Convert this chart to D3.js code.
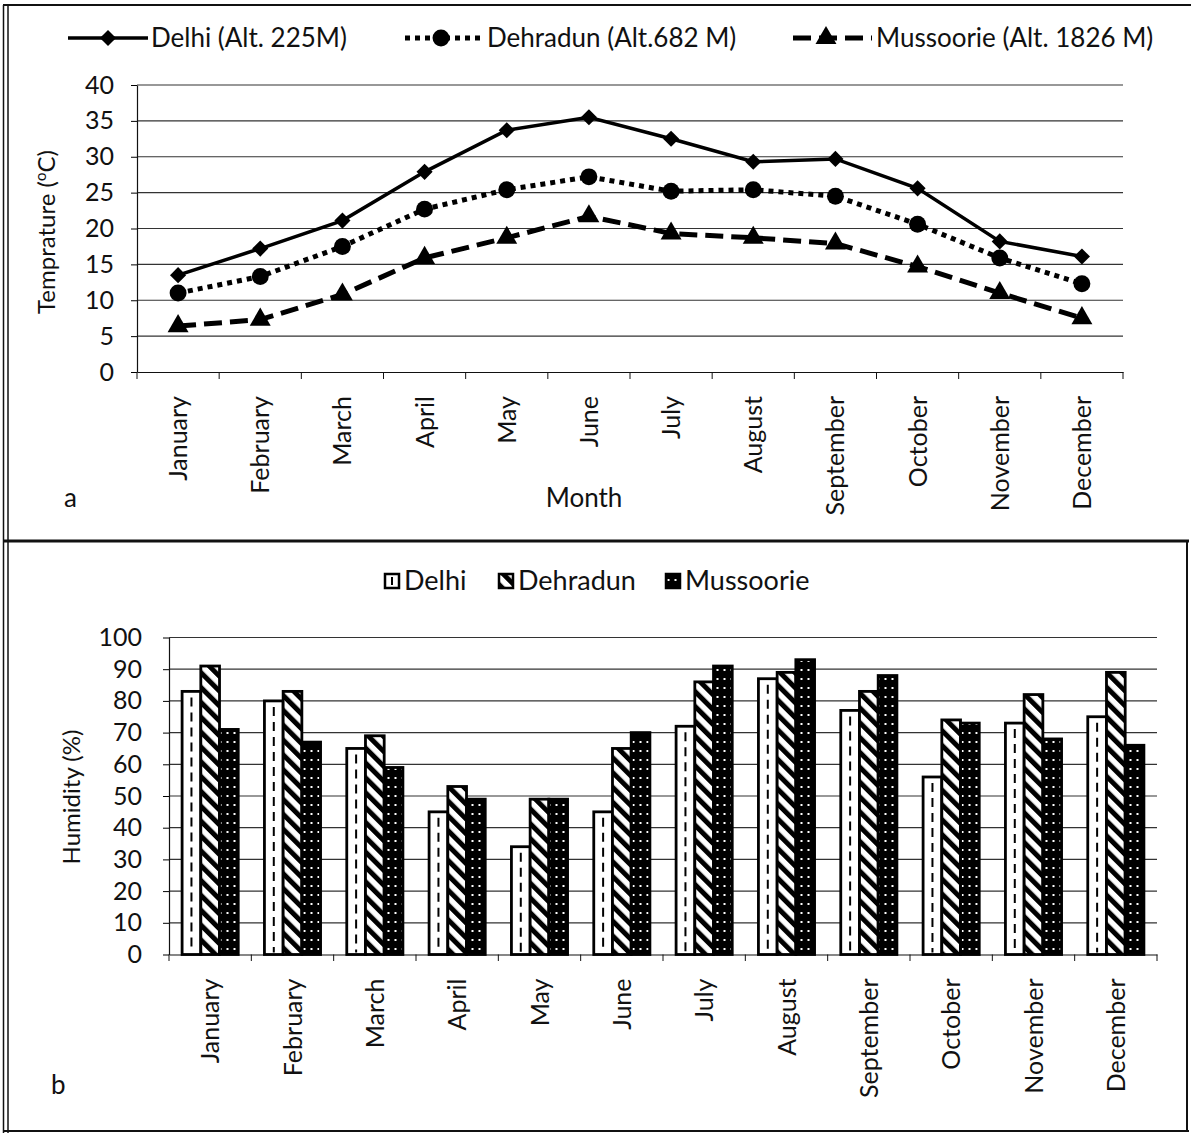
<!DOCTYPE html>
<html>
<head>
<meta charset="utf-8">
<script src="https://cdn.jsdelivr.net/npm/d3@7"></script>
<style>
    body { margin: 0; background: #fff; }
    svg text { font-family: Lato, "Open Sans", sans-serif; fill: #111; }
</style>
</head>
<body>
<div id="chart"></div>
<script>
const months = ["January", "February", "March", "April", "May", "June", "July",
    "August", "September", "October", "November", "December"];

// panel a: temperature (ºC)
const tempDelhi = [13.5, 17.2, 21.1, 27.9, 33.7, 35.5, 32.5, 29.3, 29.7, 25.6, 18.2, 16.1];
const tempDehradun = [11.0, 13.3, 17.5, 22.7, 25.4, 27.2, 25.2, 25.4, 24.5, 20.6, 15.9, 12.3];
const tempMussoorie = [6.4, 7.3, 10.8, 15.9, 18.7, 21.7, 19.3, 18.7, 17.9, 14.7, 11.0, 7.5];
const tempTicks = [0, 5, 10, 15, 20, 25, 30, 35, 40];

// panel b: humidity (%)
const humDelhi = [83, 80, 65, 45, 34, 45, 72, 87, 77, 56, 73, 75];
const humDehradun = [91, 83, 69, 53, 49, 65, 86, 89, 83, 74, 82, 89];
const humMussoorie = [71, 67, 59, 49, 49, 70, 91, 93, 88, 73, 68, 66];
const humTicks = [0, 10, 20, 30, 40, 50, 60, 70, 80, 90, 100];

const lineSeries = [
    { name: "Delhi (Alt. 225M)", values: tempDelhi, dash: null, width: 3.5, symbol: "diamond" },
    { name: "Dehradun (Alt.682 M)", values: tempDehradun, dash: "5,5", width: 5, symbol: "circle" },
    { name: "Mussoorie (Alt. 1826 M)", values: tempMussoorie, dash: "18,8", width: 5, symbol: "triangle" }
];
const barSeries = [
    { name: "Delhi", values: humDelhi, fill: "#fff" },
    { name: "Dehradun", values: humDehradun, fill: "url(#diag)" },
    { name: "Mussoorie", values: humMussoorie, fill: "url(#dots)" }
];

const W = 1191, H = 1134;
const svg = d3.select("#chart").append("svg")
    .attr("width", W)
    .attr("height", H);

// patterns
let defs = svg.append("defs");
defs.append("pattern")
    .attr("id", "diag")
    .attr("patternUnits", "userSpaceOnUse")
    .attr("width", 10.5).attr("height", 10.5)
    .attr("patternTransform", "rotate(-45)")
    .call(p => {
        p.append("rect").attr("width", 10.5).attr("height", 10.5).attr("fill", "#fff");
        p.append("rect").attr("width", 5).attr("height", 10.5).attr("fill", "#000");
    });
defs.append("pattern")
    .attr("id", "dots")
    .attr("patternUnits", "userSpaceOnUse")
    .attr("width", 7).attr("height", 9)
    .call(p => {
        p.append("rect").attr("width", 7).attr("height", 9).attr("fill", "#000");
        p.append("rect").attr("x", 2.5).attr("y", 3).attr("width", 2).attr("height", 2).attr("fill", "#fff");
    });

// page frame (scanned figure borders)
let frame = svg.append("g").attr("stroke", "#111").attr("fill", "none");
frame.append("line").attr("x1", 3).attr("x2", W).attr("y1", 5).attr("y2", 5).attr("stroke-width", 2);
frame.append("line").attr("x1", 3.5).attr("x2", 3.5).attr("y1", 5).attr("y2", 1133).attr("stroke-width", 1.5);
frame.append("line").attr("x1", 8).attr("x2", 8).attr("y1", 5).attr("y2", 1133).attr("stroke-width", 1.5);
frame.append("line").attr("x1", 3).attr("x2", 1189).attr("y1", 541).attr("y2", 541).attr("stroke-width", 3);
frame.append("line").attr("x1", 1187).attr("x2", 1187).attr("y1", 541).attr("y2", 1132).attr("stroke-width", 2);
frame.append("line").attr("x1", 3).attr("x2", 1189).attr("y1", 1131).attr("y2", 1131).attr("stroke-width", 2);

function symbolPath(type) {
    if (type === "diamond") return d3.symbol(d3.symbolSquare, 130)();
    if (type === "circle") return d3.symbol(d3.symbolCircle, 225)();
    return d3.symbol(d3.symbolTriangle, 190)();
}

// ---------------- panel a ----------------
let x = d3.scaleBand().domain(months).range([137, 1123]);
let y = d3.scaleLinear().domain([0, 40]).range([372, 85]);

let gA = svg.append("g");

gA.append("g")
    .selectAll("line")
    .data(tempTicks.filter(d => d > 0))
    .enter()
    .append("line")
    .attr("x1", 137).attr("x2", 1123)
    .attr("y1", d => y(d)).attr("y2", d => y(d))
    .attr("stroke", "#333").attr("stroke-width", 1.2);

let yAxisA = gA.append("g")
    .attr("transform", "translate(137,0)")
    .call(d3.axisLeft(y).tickValues(tempTicks).tickSize(6).tickSizeOuter(0).tickPadding(17));
yAxisA.selectAll("text").style("font-size", "25px");

let xAxisA = gA.append("g")
    .attr("transform", "translate(0,372)")
    .call(d3.axisBottom(x).tickSize(0).tickSizeOuter(0));
xAxisA.selectAll("text")
    .style("font-size", "25px")
    .attr("transform", "rotate(-90)")
    .attr("x", -24).attr("y", 0).attr("dy", "0.36em")
    .attr("text-anchor", "end");
gA.append("g")
    .selectAll("line")
    .data(months.map(m => x(m)).concat([x.range()[1]]))
    .enter()
    .append("line")
    .attr("x1", d => d).attr("x2", d => d)
    .attr("y1", 372).attr("y2", 379)
    .attr("stroke", "#111");
svg.selectAll(".domain").attr("stroke", "#111").attr("stroke-width", 1.2);

let line = d3.line()
    .x((d, i) => x(months[i]) + x.bandwidth() / 2)
    .y(d => y(d));

lineSeries.forEach(s => {
    gA.append("path")
        .attr("d", line(s.values))
        .attr("fill", "none")
        .attr("stroke", "#000")
        .attr("stroke-width", s.width)
        .attr("stroke-dasharray", s.dash);
    gA.append("g")
        .selectAll("path")
        .data(s.values)
        .enter()
        .append("path")
        .attr("d", symbolPath(s.symbol))
        .attr("transform", (d, i) => "translate(" + (x(months[i]) + x.bandwidth() / 2) + "," + y(d) + ")"
            + (s.symbol === "diamond" ? " rotate(45)" : ""))
        .attr("fill", "#000");
});

// legend a
let legA = [
    { x0: 68, x1: 148, mx: 108, tx: 151 },
    { x0: 405, x1: 483, mx: 441, tx: 487 },
    { x0: 793, x1: 872, mx: 826, tx: 876 }
];
lineSeries.forEach((s, i) => {
    let l = legA[i];
    gA.append("line")
        .attr("x1", l.x0).attr("x2", l.x1).attr("y1", 38).attr("y2", 38)
        .attr("stroke", "#000").attr("stroke-width", s.width)
        .attr("stroke-dasharray", s.dash);
    gA.append("path")
        .attr("d", symbolPath(s.symbol))
        .attr("transform", "translate(" + l.mx + ",38)" + (s.symbol === "diamond" ? " rotate(45)" : ""))
        .attr("fill", "#000");
    gA.append("text")
        .attr("x", l.tx).attr("y", 38).attr("dy", "0.35em")
        .style("font-size", "26px")
        .text(s.name);
});

let yTitleA = gA.append("text")
    .attr("transform", "translate(55,232) rotate(-90)")
    .attr("text-anchor", "middle")
    .style("font-size", "24px");
yTitleA.append("tspan").text("Temprature (");
yTitleA.append("tspan").attr("dy", -9).style("font-size", "15px").text("o");
yTitleA.append("tspan").attr("dy", 9).text("C)");

gA.append("text")
    .attr("x", 584).attr("y", 507)
    .attr("text-anchor", "middle")
    .style("font-size", "26px")
    .text("Month");
gA.append("text")
    .attr("x", 64).attr("y", 507)
    .style("font-size", "26px")
    .text("a");

// ---------------- panel b ----------------
let x2 = d3.scaleBand().domain(months).range([169, 1157]);
let xSub = d3.scaleBand().domain(barSeries.map(s => s.name))
    .range([0, x2.bandwidth()]).paddingOuter(0.7);
let y2 = d3.scaleLinear().domain([0, 100]).range([954.5, 637.5]);

let gB = svg.append("g");

gB.append("g")
    .selectAll("line")
    .data(humTicks.filter(d => d > 0))
    .enter()
    .append("line")
    .attr("x1", 169).attr("x2", 1157)
    .attr("y1", d => y2(d)).attr("y2", d => y2(d))
    .attr("stroke", "#333").attr("stroke-width", 1.2);

let yAxisB = gB.append("g")
    .attr("transform", "translate(169,0)")
    .call(d3.axisLeft(y2).tickValues(humTicks).tickSize(6).tickSizeOuter(0).tickPadding(21));
yAxisB.selectAll("text").style("font-size", "25px");

let xAxisB = gB.append("g")
    .attr("transform", "translate(0,954.5)")
    .call(d3.axisBottom(x2).tickSize(0).tickSizeOuter(0));
xAxisB.selectAll("text")
    .style("font-size", "25px")
    .attr("transform", "rotate(-90)")
    .attr("x", -24).attr("y", 0).attr("dy", "0.36em")
    .attr("text-anchor", "end");
gB.append("g")
    .selectAll("line")
    .data(months.map(m => x2(m)).concat([x2.range()[1]]))
    .enter()
    .append("line")
    .attr("x1", d => d).attr("x2", d => d)
    .attr("y1", 954.5).attr("y2", 961)
    .attr("stroke", "#111");
svg.selectAll(".domain").attr("stroke", "#111").attr("stroke-width", 1.2);

barSeries.forEach(s => {
    let grp = gB.append("g");
    grp.selectAll("rect")
        .data(s.values)
        .enter()
        .append("rect")
        .attr("x", (d, i) => x2(months[i]) + xSub(s.name))
        .attr("y", d => y2(d))
        .attr("width", xSub.bandwidth())
        .attr("height", d => y2(0) - y2(d))
        .attr("fill", s.fill)
        .attr("stroke", "#000")
        .attr("stroke-width", 2.8);
    if (s.name === "Delhi") {
        grp.selectAll("line")
            .data(s.values)
            .enter()
            .append("line")
            .attr("x1", (d, i) => x2(months[i]) + xSub(s.name) + xSub.bandwidth() / 2)
            .attr("x2", (d, i) => x2(months[i]) + xSub(s.name) + xSub.bandwidth() / 2)
            .attr("y1", d => y2(d) + 6)
            .attr("y2", y2(0) - 2)
            .attr("stroke", "#000")
            .attr("stroke-width", 2)
            .attr("stroke-dasharray", "9,6");
    }
});

// legend b
let legB = [385, 499, 666];
barSeries.forEach((s, i) => {
    gB.append("rect")
        .attr("x", legB[i]).attr("y", 574)
        .attr("width", 14).attr("height", 14)
        .attr("fill", s.fill)
        .attr("stroke", "#000").attr("stroke-width", 2.5);
    if (s.name === "Delhi") {
        gB.append("line")
            .attr("x1", legB[i] + 7).attr("x2", legB[i] + 7)
            .attr("y1", 577).attr("y2", 585)
            .attr("stroke", "#000").attr("stroke-width", 2);
    }
    gB.append("text")
        .attr("x", legB[i] + 19).attr("y", 581).attr("dy", "0.35em")
        .style("font-size", "27px")
        .text(s.name);
});

gB.append("text")
    .attr("transform", "translate(80,797) rotate(-90)")
    .attr("text-anchor", "middle")
    .style("font-size", "24px")
    .text("Humidity (%)");
gB.append("text")
    .attr("x", 51).attr("y", 1094)
    .style("font-size", "26px")
    .text("b");
</script>
</body>
</html>
